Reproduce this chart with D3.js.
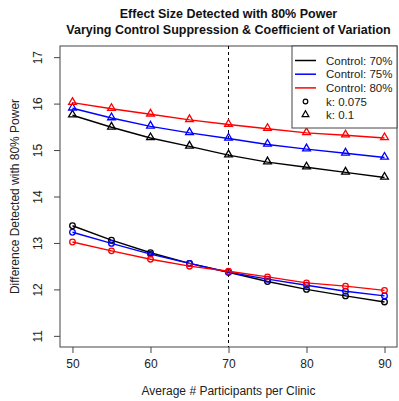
<!DOCTYPE html>
<html>
<head>
<meta charset="utf-8">
<script src="https://cdn.jsdelivr.net/npm/d3@7"></script>
<style>
  body { margin: 0; background: #fff; }
  svg { font-family: "Liberation Sans", Arial, sans-serif; }
</style>
</head>
<body>
<div id="chart"></div>
<script>
const participants = [50, 55, 60, 65, 70, 75, 80, 85, 90];
const controls = ["Control: 70%", "Control: 75%", "Control: 80%"];
const colors = ["#000000", "#0000ff", "#ff0000"];
const yTicks = [11, 12, 13, 14, 15, 16, 17];
const xTicks = [50, 60, 70, 80, 90];

// k = 0.1 (triangles)
const k100_c70 = [15.75, 15.49, 15.26, 15.08, 14.89, 14.74, 14.63, 14.52, 14.41];
const k100_c75 = [15.90, 15.69, 15.51, 15.37, 15.25, 15.12, 15.02, 14.93, 14.84];
const k100_c80 = [16.02, 15.89, 15.77, 15.65, 15.55, 15.46, 15.37, 15.32, 15.26];
// k = 0.075 (circles)
const k075_c70 = [13.37, 13.06, 12.79, 12.56, 12.37, 12.17, 12.00, 11.86, 11.73];
const k075_c75 = [13.23, 12.99, 12.76, 12.56, 12.37, 12.22, 12.09, 11.96, 11.86];
const k075_c80 = [13.02, 12.83, 12.65, 12.50, 12.39, 12.27, 12.14, 12.07, 11.98];

const series = [
  { k: 0.075, shape: "circle", color: 0, vals: k075_c70 },
  { k: 0.075, shape: "circle", color: 1, vals: k075_c75 },
  { k: 0.075, shape: "circle", color: 2, vals: k075_c80 },
  { k: 0.1, shape: "triangle", color: 0, vals: k100_c70 },
  { k: 0.1, shape: "triangle", color: 1, vals: k100_c75 },
  { k: 0.1, shape: "triangle", color: 2, vals: k100_c80 },
];

const width = 399, height = 401;
const plot = { left: 60, right: 397, top: 46, bottom: 347 };

const svg = d3.select("#chart").append("svg")
  .attr("width", width).attr("height", height);

// R style 4% padding around the limits
const x = d3.scaleLinear().domain([48.4, 91.6]).range([plot.left, plot.right]);
const y = d3.scaleLinear().domain([10.76, 17.24]).range([plot.bottom, plot.top]);

// frame
svg.append("rect")
  .attr("x", plot.left).attr("y", plot.top)
  .attr("width", plot.right - plot.left).attr("height", plot.bottom - plot.top)
  .attr("fill", "none").attr("stroke", "#444").attr("stroke-width", 1);

// axes
const xAxis = svg.append("g")
  .attr("transform", `translate(0,${plot.bottom})`)
  .call(d3.axisBottom(x).tickValues(xTicks).tickSize(6).tickPadding(6));
xAxis.select(".domain").remove();
xAxis.selectAll("line").attr("stroke", "#444");
xAxis.selectAll("text").attr("font-size", 12).attr("fill", "#222")
  .attr("font-family", "Liberation Sans, Arial, sans-serif");

const yAxis = svg.append("g")
  .attr("transform", `translate(${plot.left},0)`)
  .call(d3.axisLeft(y).tickValues(yTicks).tickFormat(d3.format("d")).tickSize(6));
yAxis.select(".domain").remove();
yAxis.selectAll("line").attr("stroke", "#444");
yAxis.selectAll("text")
  .attr("font-size", 12).attr("fill", "#222")
  .attr("font-family", "Liberation Sans, Arial, sans-serif")
  .attr("x", null).attr("dy", null)
  .attr("text-anchor", "middle")
  .attr("transform", "translate(-18,0) rotate(-90)");

// reference line at 70
svg.append("line")
  .attr("x1", x(70)).attr("x2", x(70))
  .attr("y1", plot.top).attr("y2", plot.bottom)
  .attr("stroke", "#000").attr("stroke-width", 1)
  .attr("stroke-dasharray", "3,3");

// lines
const line = d3.line()
  .x((d, i) => x(participants[i]))
  .y(d => y(d));

const triangle = d3.symbol().type(d3.symbolTriangle).size(26);

series.forEach(s => {
  const c = colors[s.color];
  svg.append("path")
    .datum(s.vals)
    .attr("d", line)
    .attr("fill", "none")
    .attr("stroke", c)
    .attr("stroke-width", 1.4);

  const g = svg.append("g");
  if (s.shape === "circle") {
    g.selectAll("circle").data(s.vals).join("circle")
      .attr("cx", (d, i) => x(participants[i]))
      .attr("cy", d => y(d))
      .attr("r", 2.8)
      .attr("fill", "none").attr("stroke", c).attr("stroke-width", 1.3);
  } else {
    g.selectAll("path").data(s.vals).join("path")
      .attr("d", triangle)
      .attr("transform", (d, i) => `translate(${x(participants[i])},${y(d) - 0.5})`)
      .attr("fill", "none").attr("stroke", c).attr("stroke-width", 1.3);
  }
});

// legend
const lg = svg.append("g");
lg.append("rect")
  .attr("x", 292).attr("y", plot.top)
  .attr("width", plot.right - 292).attr("height", 82)
  .attr("fill", "#fff").attr("stroke", "#444").attr("stroke-width", 1);

controls.forEach((name, i) => {
  const yy = 60.5 + i * 13.7;
  lg.append("line")
    .attr("x1", 295).attr("x2", 316).attr("y1", yy).attr("y2", yy)
    .attr("stroke", colors[i]).attr("stroke-width", 1.5);
  lg.append("text")
    .attr("x", 326).attr("y", yy).attr("dy", "0.35em")
    .attr("font-size", 11.5).attr("fill", "#222").text(name);
});
const kLabels = ["k: 0.075", "k: 0.1"];
kLabels.forEach((name, i) => {
  const yy = 101.5 + i * 13.7;
  if (i === 0) {
    lg.append("circle").attr("cx", 305.5).attr("cy", yy).attr("r", 2.3)
      .attr("fill", "none").attr("stroke", "#000").attr("stroke-width", 1.2);
  } else {
    lg.append("path").attr("d", d3.symbol().type(d3.symbolTriangle).size(20))
      .attr("transform", `translate(305.5,${yy - 0.5})`)
      .attr("fill", "none").attr("stroke", "#000").attr("stroke-width", 1.2);
  }
  lg.append("text")
    .attr("x", 326).attr("y", yy).attr("dy", "0.35em")
    .attr("font-size", 11.5).attr("fill", "#222").text(name);
});

// titles
const cx = (plot.left + plot.right) / 2;
svg.append("text")
  .attr("x", cx).attr("y", 18).attr("text-anchor", "middle")
  .attr("font-size", 12.5).attr("font-weight", "bold").attr("fill", "#111")
  .text("Effect Size Detected with 80% Power");
svg.append("text")
  .attr("x", cx).attr("y", 34).attr("text-anchor", "middle")
  .attr("font-size", 12.5).attr("font-weight", "bold").attr("fill", "#111")
  .text("Varying Control Suppression & Coefficient of Variation");

svg.append("text")
  .attr("x", cx).attr("y", 395).attr("text-anchor", "middle")
  .attr("font-size", 12).attr("fill", "#222")
  .text("Average # Participants per Clinic");

svg.append("text")
  .attr("transform", `translate(19,${(plot.top + plot.bottom) / 2}) rotate(-90)`)
  .attr("text-anchor", "middle")
  .attr("font-size", 12).attr("fill", "#222")
  .text("Difference Detected with 80% Power");
</script>
</body>
</html>
